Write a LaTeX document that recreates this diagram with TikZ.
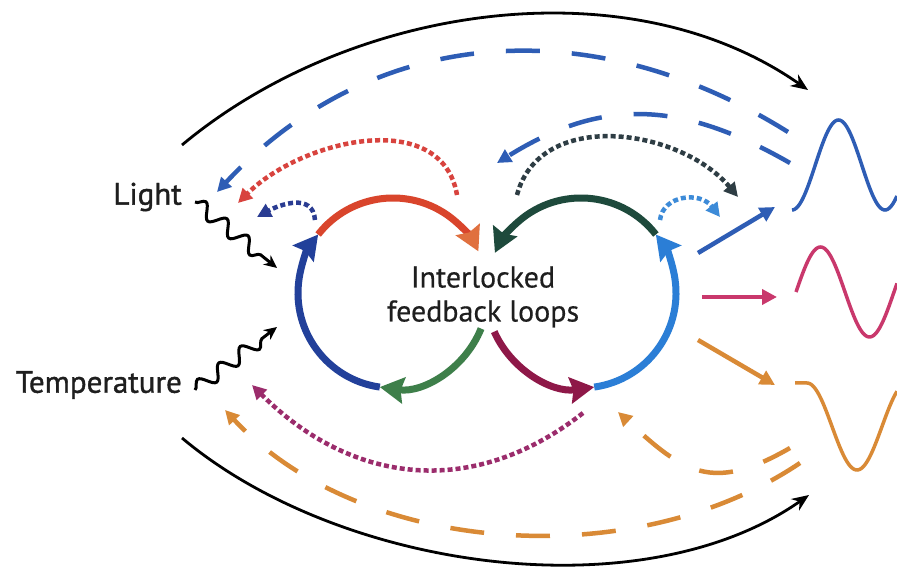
\documentclass[tikz,border=0pt]{standalone}
\usepackage{fontspec}
\setmainfont{PT Sans}
\newfontfamily\labelfont[FakeBold=1.2]{PT Sans}
\newfontfamily\titlefont[FakeBold=0.4]{PT Sans}
\usetikzlibrary{arrows.meta,decorations.pathmorphing}
\definecolor{loopred}{HTML}{D9452C}
\definecolor{loopredtip}{HTML}{E0703F}
\definecolor{loopblue}{HTML}{22409A}
\definecolor{loopgreen}{HTML}{3E7F4A}
\definecolor{loopdkgreen}{HTML}{1E4A3C}
\definecolor{loopmaroon}{HTML}{8E1848}
\definecolor{loopltblue}{HTML}{2B7ED6}
\definecolor{outblue}{HTML}{2E5DB5}
\definecolor{outred}{HTML}{C9386C}
\definecolor{outorange}{HTML}{D98A36}
\definecolor{dotred}{HTML}{D8433E}
\definecolor{dotblue}{HTML}{2A3C92}
\definecolor{dotgrey}{HTML}{2E3D44}
\definecolor{dotltblue}{HTML}{3D8BD8}
\definecolor{dotpurple}{HTML}{9B2C6C}
\definecolor{labelgrey}{HTML}{1E1E1E}

\begin{document}
\begin{tikzpicture}[x=1pt,y=1pt,
  looparc/.style={line width=7pt,-{Stealth[length=24pt,width=26pt,inset=3pt]}},
  dashline/.style={line width=4.5pt,dash pattern=on 34pt off 32pt,-{Triangle[length=14pt,width=14pt]}},
  dotline/.style={line width=4.5pt,dash pattern=on 5pt off 3pt,-{Triangle[length=14pt,width=14pt]}},
  outarrow/.style={line width=4.5pt,-{Triangle[length=15pt,width=15pt]}},
  bigarc/.style={line width=2.8pt,-{Stealth[length=17pt,width=14pt]}},
  snakearrow/.style={line width=3pt,-{Stealth[length=13pt,width=12pt]},
    decorate,decoration={snake,amplitude=7pt,segment length=27pt,post length=10pt}},
  wave/.style={line width=3.5pt},
  label/.style={font=\fontsize{31}{34}\labelfont,text=labelgrey,inner sep=0pt},
  title/.style={font=\fontsize{30}{34}\titlefont,text=labelgrey,inner sep=0pt,align=center}]
  \path[fill=white,use as bounding box] (0,0) rectangle (897,573);

  \coordinate (CL) at (393,280);
  \coordinate (CR) at (581,280);

  \node[label,anchor=east] (light) at (182,376) {Light};
  \node[label,anchor=east] (temp) at (182,188) {Temperature};
  \node[title] (loops) at (483,276) {Interlocked\\feedback loops};

  \coordinate (lightA) at (195,371);
  \coordinate (lightB) at (277,305);
  \coordinate (tempA) at (195,183);
  \coordinate (tempB) at (277,246);
  \draw[snakearrow] (lightA) -- (lightB);
  \draw[snakearrow] (tempA) -- (tempB);

  \draw[looparc,loopred,-{Stealth[length=24pt,width=26pt,inset=3pt,color=loopredtip]}]
    ([shift={(142:95)}]CL) arc[start angle=142,end angle=26,radius=95pt];
  \draw[looparc,loopgreen] ([shift={(-22:95)}]CL) arc[start angle=-22,end angle=-98,radius=95pt];
  \draw[looparc,loopblue] ([shift={(-98:95)}]CL) arc[start angle=-98,end angle=-218,radius=95pt];
  \draw[looparc,loopdkgreen] ([shift={(38:95)}]CR) arc[start angle=38,end angle=155,radius=95pt];
  \draw[looparc,loopmaroon] ([shift={(204:95)}]CR) arc[start angle=204,end angle=278,radius=95pt];
  \draw[looparc,loopltblue] ([shift={(278:95)}]CR) arc[start angle=278,end angle=398,radius=95pt];

  \coordinate (topL) at (182,428);
  \coordinate (topR) at (808,483);
  \coordinate (botL) at (182,135);
  \coordinate (botR) at (809,78);
  \draw[bigarc] (topL) .. controls (351,569) and (628,609) .. (topR);
  \draw[bigarc] (botL) .. controls (339,3) and (641,-40) .. (botR);

  \coordinate (blueOutA) at (788,441);
  \coordinate (blueOutB) at (217,381);
  \coordinate (blueInA) at (790,410);
  \coordinate (blueInB) at (497,410);
  \draw[dashline,outblue] (blueOutA) .. controls (593,563) and (374,549) .. (blueOutB);
  \draw[dashline,outblue] (blueInA) .. controls (682,472) and (603,476) .. (blueInB);

  \coordinate (orOutA) at (800,110);
  \coordinate (orOutB) at (225,163);
  \coordinate (orInA) at (790,125);
  \coordinate (orInB) at (618,161);
  \draw[dashline,outorange] (orOutA) .. controls (634,-2) and (361,17) .. (orOutB);
  \draw[dashline,outorange,dash phase=4pt] (orInA) .. controls (712,80) and (684,100) .. (orInB);

  \draw[dotline,dotred] (457,378) .. controls (442,466) and (302,434) .. (238,370);
  \draw[dotline,dotblue] (315,353) .. controls (313,381) and (279,368) .. (257,356);
  \draw[dotline,dotgrey] (517,378) .. controls (540,465) and (680,445) .. (738,376);
  \draw[dotline,dotltblue] (660,353) .. controls (663,378) and (700,382) .. (720,356);
  \draw[dotline,dotpurple] (583,160) .. controls (472,73) and (351,89) .. (252,188);

  \coordinate (outBlueA) at (698,320);
  \coordinate (outBlueB) at (775,366);
  \coordinate (outRedA) at (702,276);
  \coordinate (outRedB) at (777,276);
  \coordinate (outOrA) at (698,233);
  \coordinate (outOrB) at (775,188);
  \draw[outarrow,outblue] (outBlueA) -- (outBlueB);
  \draw[outarrow,outred] (outRedA) -- (outRedB);
  \draw[outarrow,outorange] (outOrA) -- (outOrB);

  \draw[wave,outblue] plot[domain=792:897,samples=80] (\x,{408-45*cos((\x-792)/93*360)});
  \draw[wave,outred] plot[domain=796:897,samples=80] (\x,{281+45*sin((\x-796)/98*360)});
  \draw[wave,outorange] (795,190) -- plot[domain=807:897,samples=80] (\x,{146.5+43.5*cos((\x-807)/100*360)});
\end{tikzpicture}
\end{document}
